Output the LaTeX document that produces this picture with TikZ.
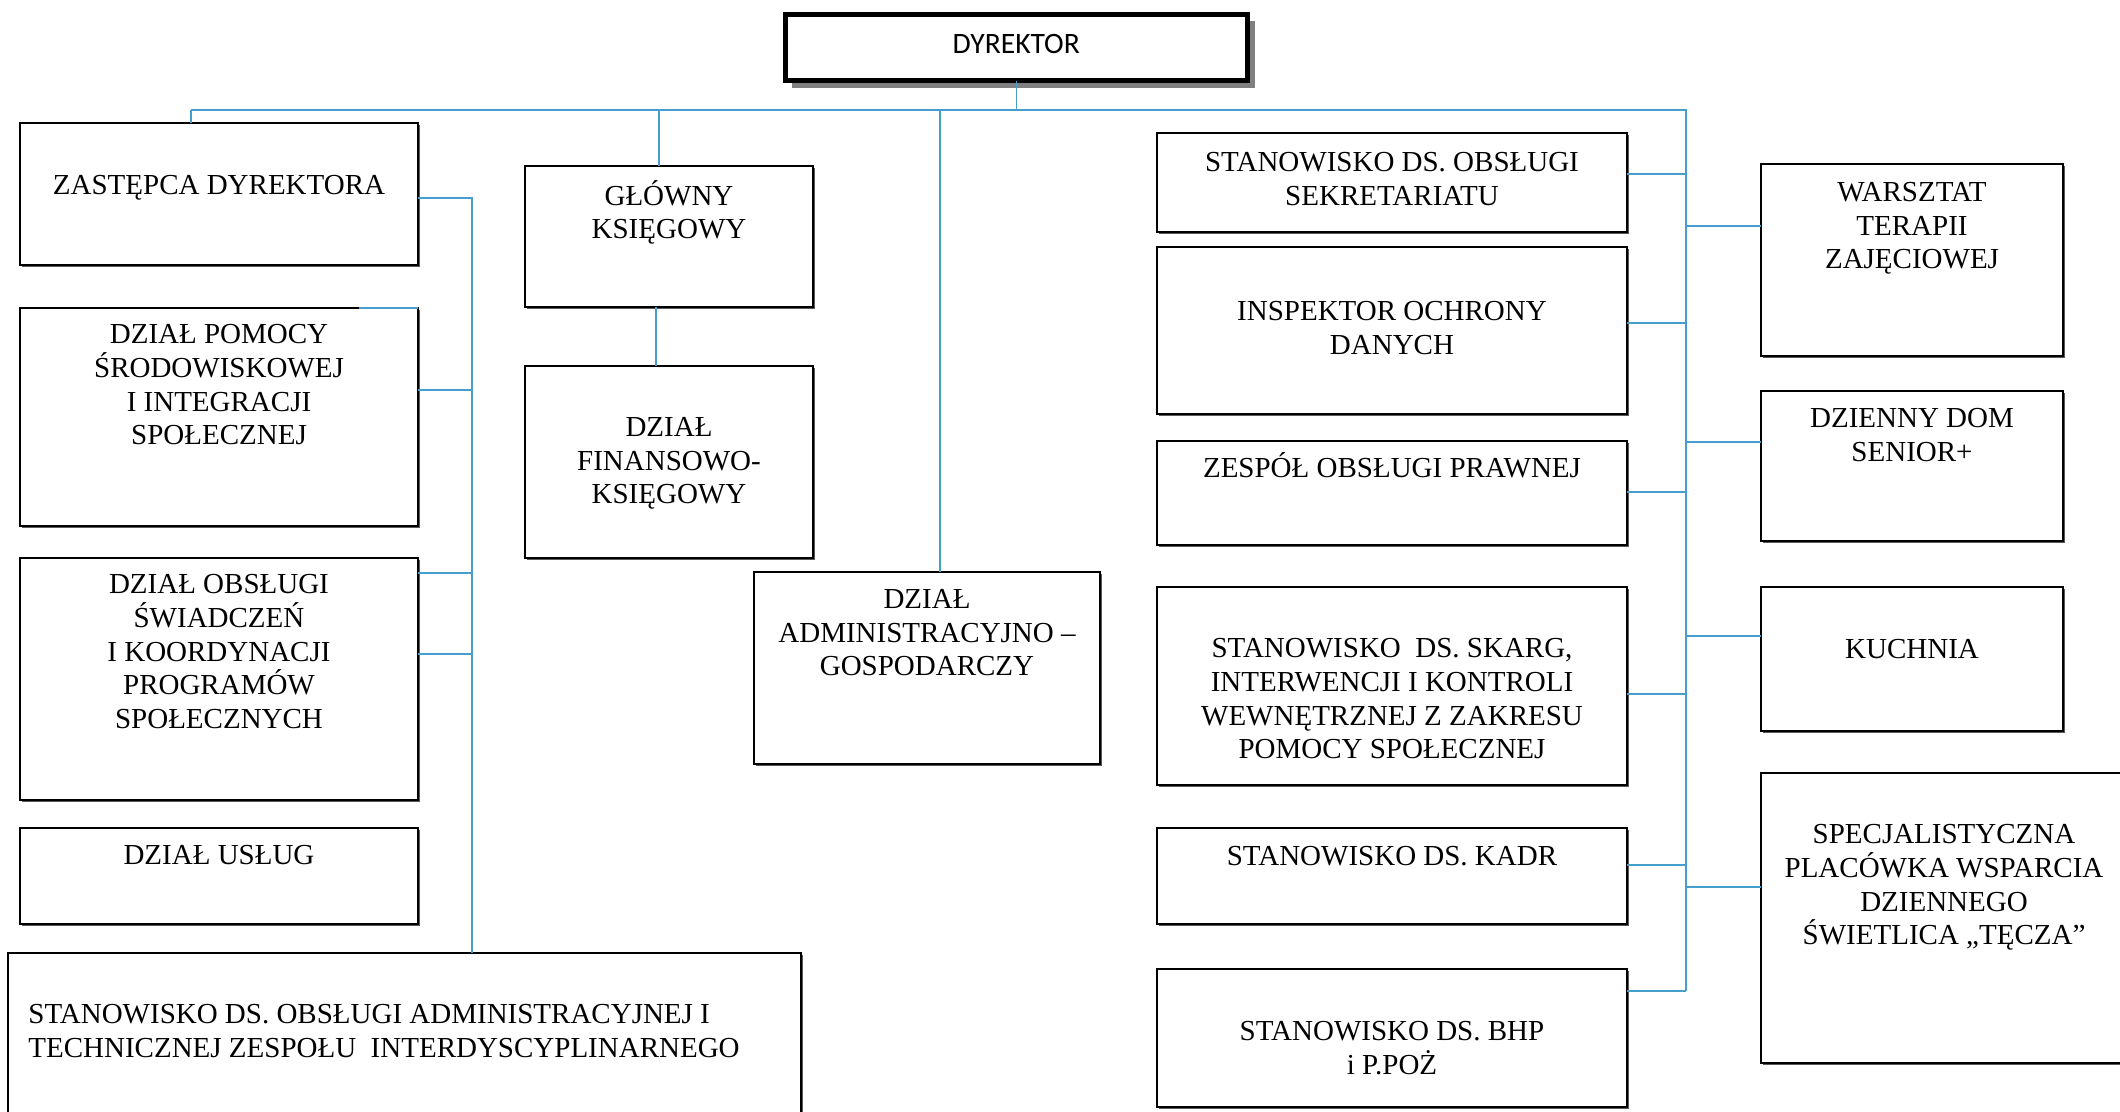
\documentclass[tikz,border=0pt]{standalone}
\usepackage{fontspec}
\setmainfont{Liberation Serif}
\newfontfamily\calfont{Carlito}
\usetikzlibrary{shadows}
\definecolor{lineblue}{RGB}{70,158,205}
\newcommand{\mkbox}[5]{\node[box, anchor=north west, minimum width={(#4-#2)*0.5pt}, minimum height={(#5-#3)*0.5pt}] (#1) at (#2,#3) {};}
\newcommand{\tx}[4]{\node[txtm] (#1) at (#2,#3) {#4};}
\newcommand{\txs}[4]{\node[txt] (#1) at (#2,#3) {#4};}
\begin{document}
\begin{tikzpicture}[x=0.5pt,y=-0.5pt,
  box/.style={draw=black, line width=0.75pt, fill=white, inner sep=0pt, outer sep=0pt,
    drop shadow={shadow xshift=0.9pt, shadow yshift=-0.9pt, fill=black!65, opacity=1}},
  dirbox/.style={draw=black, line width=2.5pt, fill=white, inner sep=0pt, outer sep=0pt,
    font=\calfont\fontsize{14.8pt}{17pt}\selectfont, text height=9.5pt, text depth=3.3pt,
    drop shadow={shadow xshift=3.5pt, shadow yshift=-3.5pt, fill=black!50, opacity=1}},
  txt/.style={font=\fontsize{14.5pt}{16.85pt}\selectfont, align=center, anchor=north,
    inner sep=0pt, yshift=9pt, execute at begin node={\rule{0pt}{0.95em}}},
  txtm/.style={txt, yshift=-3.5pt},
  txtl/.style={txtm, align=left, anchor=north west},
  link/.style={draw=lineblue, line width=1pt}]
\useasboundingbox (0,0) rectangle (2120,1112);
\fill[white] (0,0) rectangle (2120,1112);
\clip (0,0) rectangle (2120,1112);

% director
\node[dirbox, minimum width=231.25pt, minimum height=33.15pt] (dyr) at (1016.3,47.4) {DYREKTOR};

% left column
\mkbox{zast}{20}{123}{418}{265}
\mkbox{pomocy}{20}{308}{418}{526}
\mkbox{swiad}{20}{558}{418}{800}
\mkbox{uslug}{20}{828}{418}{924}
\mkbox{admin}{8}{953}{801}{1140}
% middle-left
\mkbox{glowny}{525}{166}{813}{307}
\mkbox{finans}{525}{366}{813}{558}
\mkbox{gosp}{754}{572}{1100}{764}
% middle-right
\mkbox{sekr}{1157}{133}{1627}{232}
\mkbox{iod}{1157}{247}{1627}{414}
\mkbox{prawn}{1157}{441}{1627}{545}
\mkbox{skarg}{1157}{587}{1627}{785}
\mkbox{kadr}{1157}{828}{1627}{924}
\mkbox{bhp}{1157}{969}{1627}{1107}
% right column
\mkbox{wtz}{1761}{164}{2063}{356}
\mkbox{dds}{1761}{391}{2063}{541}
\mkbox{kuch}{1761}{587}{2063}{731}
\mkbox{spec}{1761}{773}{2127}{1063}

% texts
\txs{tzast}{219}{185}{ZASTĘPCA DYREKTORA}
\tx{tpomocy}{219}{335}{DZIAŁ POMOCY\\ŚRODOWISKOWEJ\\I INTEGRACJI\\SPOŁECZNEJ}
\tx{tswiad}{219}{585}{DZIAŁ OBSŁUGI\\ŚWIADCZEŃ\\I KOORDYNACJI\\PROGRAMÓW\\SPOŁECZNYCH}
\txs{tuslug}{219}{855}{DZIAŁ USŁUG}
\node[txtl] (tadmin) at (28,1015) {STANOWISKO DS. OBSŁUGI ADMINISTRACYJNEJ I\\TECHNICZNEJ ZESPOŁU\ \ INTERDYSCYPLINARNEGO};
\tx{tglowny}{669}{191}{GŁÓWNY\\KSIĘGOWY}
\tx{tfinans}{669}{428}{DZIAŁ\\FINANSOWO-\\KSIĘGOWY}
\tx{tgosp}{927}{600}{DZIAŁ\\ADMINISTRACYJNO –\\GOSPODARCZY}
\tx{tsekr}{1392}{163}{STANOWISKO DS. OBSŁUGI\\SEKRETARIATU}
\tx{tiod}{1392}{312}{INSPEKTOR OCHRONY\\DANYCH}
\txs{tprawn}{1392}{468}{ZESPÓŁ OBSŁUGI PRAWNEJ}
\tx{tskarg}{1392}{649}{STANOWISKO\ \ DS. SKARG,\\INTERWENCJI I KONTROLI\\WEWNĘTRZNEJ Z ZAKRESU\\POMOCY SPOŁECZNEJ}
\txs{tkadr}{1392}{856}{STANOWISKO DS. KADR}
\tx{tbhp}{1392}{1032}{STANOWISKO DS. BHP\\i P.POŻ}
\tx{twtz}{1912}{193}{WARSZTAT\\TERAPII\\ZAJĘCIOWEJ}
\tx{tdds}{1912}{419}{DZIENNY DOM\\SENIOR+}
\txs{tkuch}{1912}{649}{KUCHNIA}
\tx{tspec}{1944}{835}{SPECJALISTYCZNA\\PLACÓWKA WSPARCIA\\DZIENNEGO\\ŚWIETLICA „TĘCZA”}

% buses
\coordinate (busL) at (191,110);
\coordinate (busR) at (1686,110);
\coordinate (busB) at (1686,991);
\coordinate (lt) at (472,198);

\draw[link, line width=0.6pt] (dyr.south) -- (dyr.south |- busL);
\draw[link] (busL) -- (busR) -- (busB);
\draw[link] (busL) -- (busL |- zast.north);
\draw[link] ([xshift=-5pt]glowny.north |- busL) -- ([xshift=-5pt]glowny.north);
\draw[link] ([xshift=6.5pt]gosp.north |- busL) -- ([xshift=6.5pt]gosp.north);
\draw[link] ([xshift=-6.5pt]glowny.south) -- ([xshift=-6.5pt]glowny.south |- finans.north);

% left sub-bus
\draw[link] (zast.east |- lt) -- (lt) -- (lt |- admin.north);
\draw[link] (pomocy.east |- 0,390) -- (lt |- 0,390);
\draw[link] (swiad.east |- 0,573) -- (lt |- 0,573);
\draw[link] (swiad.east |- 0,654) -- (lt |- 0,654);
\draw[link] ([xshift=-29.5pt]pomocy.north east) -- (pomocy.north east);

% right branches
\draw[link] (sekr.east |- 0,174) -- (busR |- 0,174);
\draw[link] (iod.east |- 0,323) -- (busR |- 0,323);
\draw[link] (prawn.east |- 0,492) -- (busR |- 0,492);
\draw[link] (skarg.east |- 0,694) -- (busR |- 0,694);
\draw[link] (kadr.east |- 0,865) -- (busR |- 0,865);
\draw[link] (bhp.east |- busB) -- (busB);
\draw[link] (busR |- 0,226) -- (wtz.west |- 0,226);
\draw[link] (busR |- 0,442) -- (dds.west |- 0,442);
\draw[link] (busR |- 0,636) -- (kuch.west |- 0,636);
\draw[link] (busR |- 0,887) -- (spec.west |- 0,887);
\end{tikzpicture}
\end{document}
